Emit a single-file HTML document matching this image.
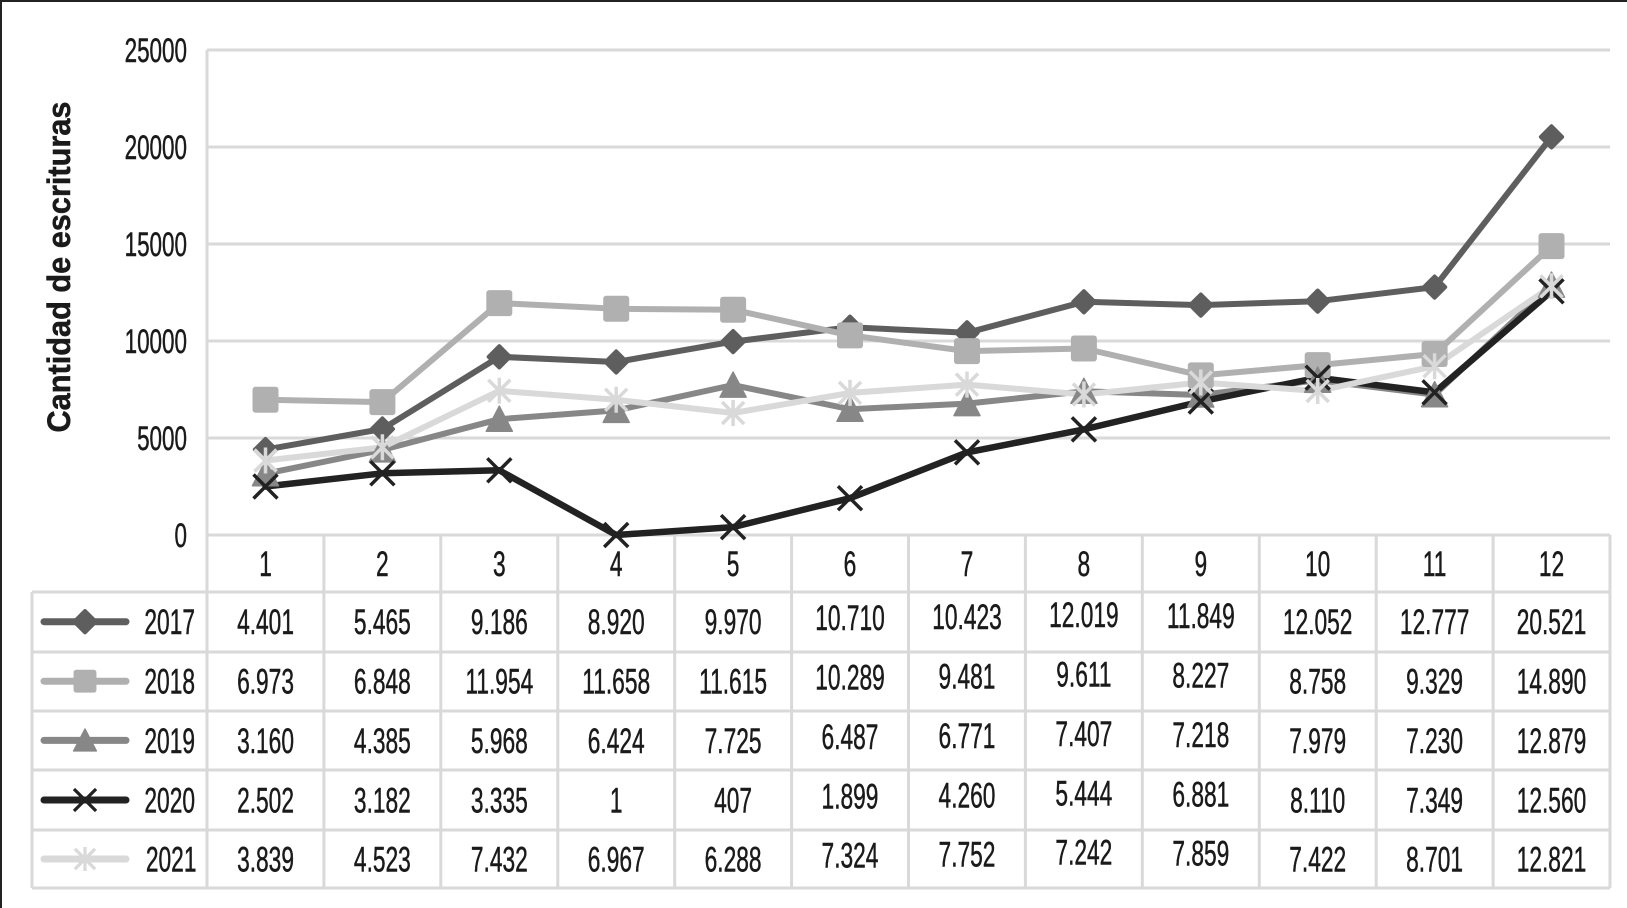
<!DOCTYPE html>
<html>
<head>
<meta charset="utf-8">
<style>
html,body{margin:0;padding:0;background:#fff;}
svg{display:block;}
text{font-family:"Liberation Sans",sans-serif;fill:#1a1a1a;stroke:#1a1a1a;stroke-width:0.5px;}
</style>
</head>
<body>
<svg width="1627" height="908" viewBox="0 0 1627 908" xmlns="http://www.w3.org/2000/svg">
<defs>
  <g id="dia"><rect x="-9.5" y="-9.5" width="19" height="19" rx="2" transform="rotate(45)" fill="#5e5e5e"/></g>
  <g id="sq"><rect x="-13" y="-13" width="26" height="26" rx="3" fill="#b0b0b0"/></g>
  <g id="tri"><path d="M0,-13 L13,12 L-13,12 Z" fill="#878787" stroke="#878787" stroke-width="1.5" stroke-linejoin="round"/></g>
  <g id="xm"><path d="M-12,-12 L12,12 M12,-12 L-12,12" stroke="#222" stroke-width="3.5" fill="none"/></g>
  <g id="ast"><path d="M-11,-11 L11,11 M11,-11 L-11,11 M0,-13 L0,13" stroke="#d9d9d9" stroke-width="3.5" fill="none"/></g>
</defs>
<rect x="0" y="0" width="1627" height="908" fill="#fff"/>
<!-- frame -->
<rect x="0" y="0" width="1627" height="2" fill="#222"/>
<rect x="0" y="0" width="2" height="908" fill="#222"/>

<!-- gridlines -->
<g stroke="#d9d9d9" stroke-width="3" fill="none">
  <line x1="207" y1="50" x2="1610" y2="50"/>
  <line x1="207" y1="147" x2="1610" y2="147"/>
  <line x1="207" y1="244" x2="1610" y2="244"/>
  <line x1="207" y1="341" x2="1610" y2="341"/>
  <line x1="207" y1="438" x2="1610" y2="438"/>
  <line x1="207" y1="535" x2="1610" y2="535"/>
  <line x1="207" y1="50" x2="207" y2="888"/>
  <line x1="32" y1="592" x2="1610" y2="592"/>
  <line x1="32" y1="652" x2="1610" y2="652"/>
  <line x1="32" y1="711" x2="1610" y2="711"/>
  <line x1="32" y1="770" x2="1610" y2="770"/>
  <line x1="32" y1="830" x2="1610" y2="830"/>
  <line x1="32" y1="888" x2="1610" y2="888"/>
  <line x1="32" y1="592" x2="32" y2="888"/>
  <line x1="323.9" y1="535" x2="323.9" y2="888"/>
  <line x1="440.8" y1="535" x2="440.8" y2="888"/>
  <line x1="557.8" y1="535" x2="557.8" y2="888"/>
  <line x1="674.7" y1="535" x2="674.7" y2="888"/>
  <line x1="791.6" y1="535" x2="791.6" y2="888"/>
  <line x1="908.5" y1="535" x2="908.5" y2="888"/>
  <line x1="1025.4" y1="535" x2="1025.4" y2="888"/>
  <line x1="1142.3" y1="535" x2="1142.3" y2="888"/>
  <line x1="1259.3" y1="535" x2="1259.3" y2="888"/>
  <line x1="1376.2" y1="535" x2="1376.2" y2="888"/>
  <line x1="1493.1" y1="535" x2="1493.1" y2="888"/>
  <line x1="1610" y1="535" x2="1610" y2="888"/>
</g>

<!-- y tick labels -->
<g transform="scale(0.66,1)" font-size="34" text-anchor="end">
  <text x="283.3" y="62">25000</text>
  <text x="283.3" y="159">20000</text>
  <text x="283.3" y="256">15000</text>
  <text x="283.3" y="353">10000</text>
  <text x="283.3" y="450">5000</text>
  <text x="283.3" y="547">0</text>
</g>

<!-- y axis title -->
<text transform="translate(70,267) rotate(-90)" text-anchor="middle" font-weight="bold" font-size="32" textLength="331" lengthAdjust="spacingAndGlyphs">Cantidad de escrituras</text>

<!-- series lines -->
<g fill="none" stroke-width="6" stroke-linejoin="round" stroke-linecap="round">
  <polyline stroke="#5e5e5e" points="265.5,449.6 382.4,429.0 499.3,356.8 616.2,362.0 733.1,341.6 850.0,327.2 967.0,332.8 1083.9,301.8 1200.8,305.1 1317.7,301.2 1434.6,287.1 1551.5,136.9"/>
  <polyline stroke="#b0b0b0" points="265.5,399.7 382.4,402.1 499.3,303.1 616.2,308.8 733.1,309.7 850.0,335.4 967.0,351.1 1083.9,348.5 1200.8,375.4 1317.7,365.1 1434.6,354.0 1551.5,246.1"/>
  <polyline stroke="#878787" points="265.5,473.7 382.4,449.9 499.3,419.2 616.2,410.4 733.1,385.1 850.0,409.2 967.0,403.6 1083.9,391.3 1200.8,395.0 1317.7,380.2 1434.6,394.7 1551.5,285.1"/>
  <polyline stroke="#222" stroke-width="6.5" points="265.5,486.5 382.4,473.3 499.3,470.3 616.2,535.0 733.1,527.1 850.0,498.2 967.0,452.4 1083.9,429.4 1200.8,401.5 1317.7,377.7 1434.6,392.4 1551.5,291.3"/>
  <polyline stroke="#d9d9d9" points="265.5,460.5 382.4,447.3 499.3,390.8 616.2,399.8 733.1,413.0 850.0,392.9 967.0,384.6 1083.9,394.5 1200.8,382.5 1317.7,391.0 1434.6,366.2 1551.5,286.3"/>
</g>

<g>
  <use href="#dia" x="265.5" y="449.6"/><use href="#dia" x="382.4" y="429.0"/><use href="#dia" x="499.3" y="356.8"/><use href="#dia" x="616.2" y="362.0"/><use href="#dia" x="733.1" y="341.6"/><use href="#dia" x="850.0" y="327.2"/><use href="#dia" x="967.0" y="332.8"/><use href="#dia" x="1083.9" y="301.8"/><use href="#dia" x="1200.8" y="305.1"/><use href="#dia" x="1317.7" y="301.2"/><use href="#dia" x="1434.6" y="287.1"/><use href="#dia" x="1551.5" y="136.9"/>
</g>
<g>
  <use href="#sq" x="265.5" y="399.7"/><use href="#sq" x="382.4" y="402.1"/><use href="#sq" x="499.3" y="303.1"/><use href="#sq" x="616.2" y="308.8"/><use href="#sq" x="733.1" y="309.7"/><use href="#sq" x="850.0" y="335.4"/><use href="#sq" x="967.0" y="351.1"/><use href="#sq" x="1083.9" y="348.5"/><use href="#sq" x="1200.8" y="375.4"/><use href="#sq" x="1317.7" y="365.1"/><use href="#sq" x="1434.6" y="354.0"/><use href="#sq" x="1551.5" y="246.1"/>
</g>
<g>
  <use href="#tri" x="265.5" y="473.7"/><use href="#tri" x="382.4" y="449.9"/><use href="#tri" x="499.3" y="419.2"/><use href="#tri" x="616.2" y="410.4"/><use href="#tri" x="733.1" y="385.1"/><use href="#tri" x="850.0" y="409.2"/><use href="#tri" x="967.0" y="403.6"/><use href="#tri" x="1083.9" y="391.3"/><use href="#tri" x="1200.8" y="395.0"/><use href="#tri" x="1317.7" y="380.2"/><use href="#tri" x="1434.6" y="394.7"/><use href="#tri" x="1551.5" y="285.1"/>
</g>
<g>
  <use href="#xm" x="265.5" y="486.5"/><use href="#xm" x="382.4" y="473.3"/><use href="#xm" x="499.3" y="470.3"/><use href="#xm" x="616.2" y="535.0"/><use href="#xm" x="733.1" y="527.1"/><use href="#xm" x="850.0" y="498.2"/><use href="#xm" x="967.0" y="452.4"/><use href="#xm" x="1083.9" y="429.4"/><use href="#xm" x="1200.8" y="401.5"/><use href="#xm" x="1317.7" y="377.7"/><use href="#xm" x="1434.6" y="392.4"/><use href="#xm" x="1551.5" y="291.3"/>
</g>
<g>
  <use href="#ast" x="265.5" y="460.5"/><use href="#ast" x="382.4" y="447.3"/><use href="#ast" x="499.3" y="390.8"/><use href="#ast" x="616.2" y="399.8"/><use href="#ast" x="733.1" y="413.0"/><use href="#ast" x="850.0" y="392.9"/><use href="#ast" x="967.0" y="384.6"/><use href="#ast" x="1083.9" y="394.5"/><use href="#ast" x="1200.8" y="382.5"/><use href="#ast" x="1317.7" y="391.0"/><use href="#ast" x="1434.6" y="366.2"/><use href="#ast" x="1551.5" y="286.3"/>
</g>

<!-- legend keys -->
<g stroke-width="7" stroke-linecap="round">
  <line x1="44" y1="621.7" x2="126" y2="621.7" stroke="#5e5e5e"/>
  <line x1="44" y1="681.2" x2="126" y2="681.2" stroke="#b0b0b0"/>
  <line x1="44" y1="740.4" x2="126" y2="740.4" stroke="#878787"/>
  <line x1="44" y1="800" x2="126" y2="800" stroke="#222"/>
  <line x1="44" y1="859" x2="126" y2="859" stroke="#d9d9d9"/>
</g>
<use href="#dia" x="85" y="621.7"/>
<g transform="translate(85,681.2) scale(0.88)"><use href="#sq"/></g>
<g transform="translate(85,740.4) scale(0.88)"><use href="#tri"/></g>
<g transform="translate(85,800) scale(0.92)"><use href="#xm"/></g>
<g transform="translate(85,859) scale(0.92)"><use href="#ast"/></g>

<!-- table text -->
<g transform="scale(0.65,1)" font-size="35">
  <g text-anchor="end">
    <text x="300" y="634.2">2017</text>
    <text x="300" y="693.7">2018</text>
    <text x="300" y="752.9">2019</text>
    <text x="300" y="812.5">2020</text>
    <text x="302.3" y="871.5">2021</text>
  </g>
  <g text-anchor="middle">
    <text x="408.5" y="576">1</text>
    <text x="588.3" y="576">2</text>
    <text x="768.2" y="576">3</text>
    <text x="948.0" y="576">4</text>
    <text x="1127.8" y="576">5</text>
    <text x="1307.7" y="576">6</text>
    <text x="1487.7" y="576">7</text>
    <text x="1667.5" y="576">8</text>
    <text x="1847.4" y="576">9</text>
    <text x="2027.2" y="576">10</text>
    <text x="2207.1" y="576">11</text>
    <text x="2386.9" y="576">12</text>

    <text x="408.5" y="634.2">4.401</text>
    <text x="588.3" y="634.2">5.465</text>
    <text x="768.2" y="634.2">9.186</text>
    <text x="948.0" y="634.2">8.920</text>
    <text x="1127.8" y="634.2">9.970</text>
    <text x="1307.7" y="630.2">10.710</text>
    <text x="1487.7" y="629.2">10.423</text>
    <text x="1667.5" y="627.2">12.019</text>
    <text x="1847.4" y="628.2">11.849</text>
    <text x="2027.2" y="634.2">12.052</text>
    <text x="2207.1" y="634.2">12.777</text>
    <text x="2386.9" y="634.2">20.521</text>

    <text x="408.5" y="693.7">6.973</text>
    <text x="588.3" y="693.7">6.848</text>
    <text x="768.2" y="693.7">11.954</text>
    <text x="948.0" y="693.7">11.658</text>
    <text x="1127.8" y="693.7">11.615</text>
    <text x="1307.7" y="689.7">10.289</text>
    <text x="1487.7" y="688.7">9.481</text>
    <text x="1667.5" y="686.7">9.611</text>
    <text x="1847.4" y="687.7">8.227</text>
    <text x="2027.2" y="693.7">8.758</text>
    <text x="2207.1" y="693.7">9.329</text>
    <text x="2386.9" y="693.7">14.890</text>

    <text x="408.5" y="752.9">3.160</text>
    <text x="588.3" y="752.9">4.385</text>
    <text x="768.2" y="752.9">5.968</text>
    <text x="948.0" y="752.9">6.424</text>
    <text x="1127.8" y="752.9">7.725</text>
    <text x="1307.7" y="748.9">6.487</text>
    <text x="1487.7" y="747.9">6.771</text>
    <text x="1667.5" y="745.9">7.407</text>
    <text x="1847.4" y="746.9">7.218</text>
    <text x="2027.2" y="752.9">7.979</text>
    <text x="2207.1" y="752.9">7.230</text>
    <text x="2386.9" y="752.9">12.879</text>

    <text x="408.5" y="812.5">2.502</text>
    <text x="588.3" y="812.5">3.182</text>
    <text x="768.2" y="812.5">3.335</text>
    <text x="948.0" y="812.5">1</text>
    <text x="1127.8" y="812.5">407</text>
    <text x="1307.7" y="808.5">1.899</text>
    <text x="1487.7" y="807.5">4.260</text>
    <text x="1667.5" y="805.5">5.444</text>
    <text x="1847.4" y="806.5">6.881</text>
    <text x="2027.2" y="812.5">8.110</text>
    <text x="2207.1" y="812.5">7.349</text>
    <text x="2386.9" y="812.5">12.560</text>

    <text x="408.5" y="871.5">3.839</text>
    <text x="588.3" y="871.5">4.523</text>
    <text x="768.2" y="871.5">7.432</text>
    <text x="948.0" y="871.5">6.967</text>
    <text x="1127.8" y="871.5">6.288</text>
    <text x="1307.7" y="867.5">7.324</text>
    <text x="1487.7" y="866.5">7.752</text>
    <text x="1667.5" y="864.5">7.242</text>
    <text x="1847.4" y="865.5">7.859</text>
    <text x="2027.2" y="871.5">7.422</text>
    <text x="2207.1" y="871.5">8.701</text>
    <text x="2386.9" y="871.5">12.821</text>
  </g>
</g>
</svg>
</body>
</html>
